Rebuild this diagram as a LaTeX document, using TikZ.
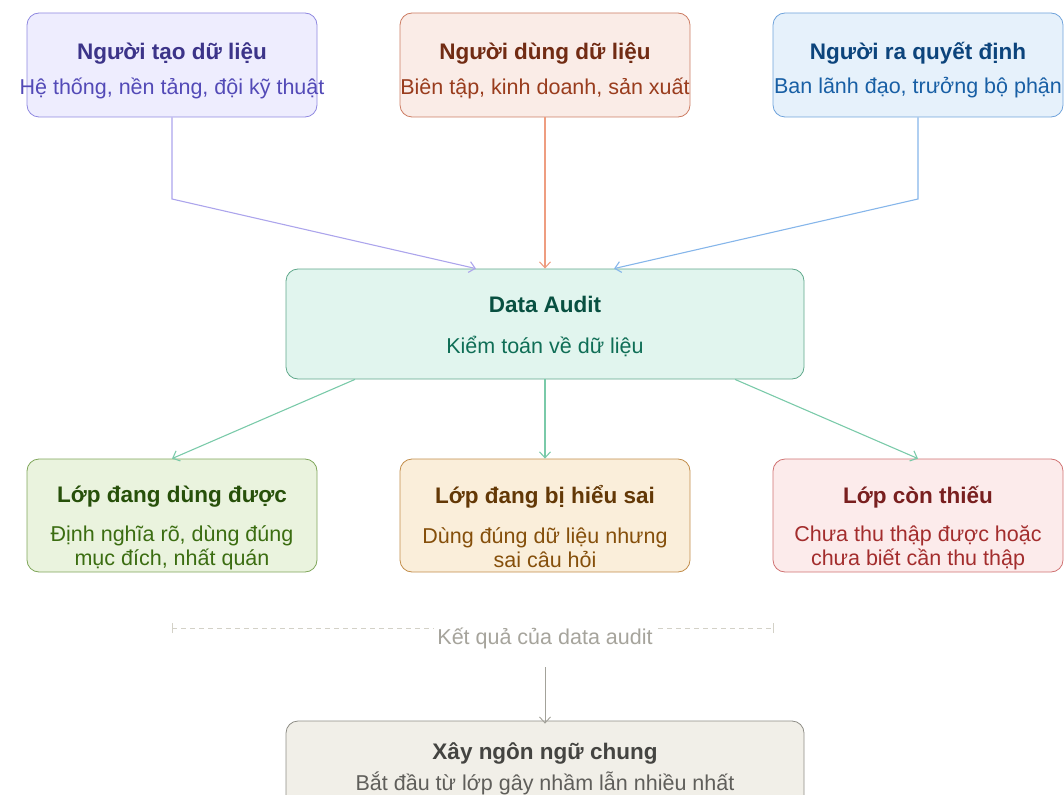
\documentclass[tikz,border=0pt]{standalone}
\usepackage{fontspec}
\setmainfont{Liberation Sans}
\usetikzlibrary{arrows.meta}
% colours
\definecolor{purFill}{HTML}{EEEDFE}\definecolor{purLine}{HTML}{8F88E0}
\definecolor{purHead}{HTML}{3C3489}\definecolor{purText}{HTML}{534AB7}
\definecolor{purLink}{HTML}{ACA5EC}
\definecolor{corFill}{HTML}{FAECE7}\definecolor{corLine}{HTML}{CC7C62}
\definecolor{corHead}{HTML}{712B13}\definecolor{corText}{HTML}{993C1D}
\definecolor{corLink}{HTML}{EE9D80}
\definecolor{bluFill}{HTML}{E6F1FB}\definecolor{bluLine}{HTML}{6FA3DB}
\definecolor{bluHead}{HTML}{0C447C}\definecolor{bluText}{HTML}{185FA5}
\definecolor{bluLink}{HTML}{86B6EA}
\definecolor{tealFill}{HTML}{E1F5EE}\definecolor{tealLine}{HTML}{5FA88B}
\definecolor{tealHead}{HTML}{085041}\definecolor{tealText}{HTML}{0F6E56}
\definecolor{tealLink}{HTML}{7ACAA9}
\definecolor{grnFill}{HTML}{EAF3DE}\definecolor{grnLine}{HTML}{7FA65A}
\definecolor{grnHead}{HTML}{27500A}\definecolor{grnText}{HTML}{3B6D11}
\definecolor{ambFill}{HTML}{FAEEDA}\definecolor{ambLine}{HTML}{C28D4A}
\definecolor{ambHead}{HTML}{633806}\definecolor{ambText}{HTML}{854F0B}
\definecolor{redFill}{HTML}{FCEBEB}\definecolor{redLine}{HTML}{D07272}
\definecolor{redHead}{HTML}{791F1F}\definecolor{redText}{HTML}{A32D2D}
\definecolor{stoFill}{HTML}{F1EFE8}\definecolor{stoLine}{HTML}{8E8D86}
\definecolor{stoHead}{HTML}{444441}\definecolor{stoText}{HTML}{5F5E5A}
\definecolor{stoLink}{HTML}{A3A29A}\definecolor{stoDash}{HTML}{D3D1C7}
\definecolor{stoNote}{HTML}{A6A49C}
\tikzset{
  box/.style={draw, rounded corners=12pt, line width=0.8pt, minimum width=290pt, minimum height=104pt, inner sep=0pt},
  widebox/.style={box, minimum width=518pt, minimum height=110pt},
  head/.style={font=\fontsize{22.5}{26}\selectfont\bfseries},
  sub/.style={font=\fontsize{21.5}{24}\selectfont, align=center},
  link/.style={line width=1.1pt, -{Straight Barb[length=6pt,width=11pt]}},
}
\begin{document}
\begin{tikzpicture}[x=1pt,y=-1pt]
	\useasboundingbox (0,0) rectangle (1064,794);
	% sources
	\node[box, fill=purFill, draw=purLine] (maker) at (172,65) {};
	\node[head, text=purHead] (makerT) at (172,53) {Người tạo dữ liệu};
	\node[sub, text=purText] (makerS) at (172,88) {Hệ thống, nền tảng, đội kỹ thuật};
	\node[box, fill=corFill, draw=corLine] (user) at (545,65) {};
	\node[head, text=corHead] (userT) at (545,53) {Người dùng dữ liệu};
	\node[sub, text=corText] (userS) at (545,88) {Biên tập, kinh doanh, sản xuất};
	\node[box, fill=bluFill, draw=bluLine] (boss) at (918,65) {};
	\node[head, text=bluHead] (bossT) at (918,53) {Người ra quyết định};
	\node[sub, text=bluText] (bossS) at (918,88) {Ban lãnh đạo, trưởng bộ phận};
	% audit
	\node[widebox, fill=tealFill, draw=tealLine] (audit) at (545,324) {};
	\node[head, text=tealHead] (auditT) at (545,304) {Data Audit};
	\node[sub, text=tealText] (auditS) at (545,346) {Kiểm toán về dữ liệu};
	% layers
	\node[box, fill=grnFill, draw=grnLine, minimum height=113pt] (good) at (172,515.5) {};
	\node[head, text=grnHead] (goodT) at (172,497) {Lớp đang dùng được};
	\node[sub, text=grnText] (goodS) at (172,548) {Định nghĩa rõ, dùng đúng\\mục đích, nhất quán};
	\node[box, fill=ambFill, draw=ambLine, minimum height=113pt] (wrong) at (545,515.5) {};
	\node[head, text=ambHead] (wrongT) at (545,497) {Lớp đang bị hiểu sai};
	\node[sub, text=ambText] (wrongS) at (545,548) {Dùng đúng dữ liệu nhưng\\sai câu hỏi};
	\node[box, fill=redFill, draw=redLine, minimum height=113pt] (gap) at (918,515.5) {};
	\node[head, text=redHead] (gapT) at (918,497) {Lớp còn thiếu};
	\node[sub, text=redText] (gapS) at (918,548) {Chưa thu thập được hoặc\\chưa biết cần thu thập};
	% result
	\coordinate (dashL) at (172,628);
	\coordinate (dashR) at (773,628);
	\draw[stoDash, line width=0.8pt, dash pattern=on 5pt off 4pt] (dashL) -- (dashR);
	\draw[stoDash, line width=0.8pt] ([yshift=-5pt]dashL) -- ([yshift=5pt]dashL);
	\draw[stoDash, line width=0.8pt] ([yshift=-5pt]dashR) -- ([yshift=5pt]dashR);
	\node[font=\fontsize{21.5}{24}\selectfont, text=stoNote, fill=white, inner sep=3pt] (note) at (545,638) {Kết quả của data audit};
	\coordinate (noteEnd) at (545,667);
	\node[widebox, fill=stoFill, draw=stoLine, minimum height=100pt] (lang) at (545,771) {};
	\node[head, text=stoHead] (langT) at (545,753) {Xây ngôn ngữ chung};
	\node[sub, text=stoText] (langS) at (545,783) {Bắt đầu từ lớp gây nhầm lẫn nhiều nhất};
	% links
	\draw[link, purLink] (maker.south) -- (172,199) -- ([xshift=-69pt]audit.north);
	\draw[link, corLink] (user.south) -- (audit.north);
	\draw[link, bluLink] (boss.south) -- (918,199) -- ([xshift=69pt]audit.north);
	\draw[link, tealLink] ([xshift=-190pt]audit.south) -- (good.north);
	\draw[link, tealLink] (audit.south) -- (wrong.north);
	\draw[link, tealLink] ([xshift=190pt]audit.south) -- (gap.north);
	\draw[link, stoLink, line width=0.9pt] (noteEnd) -- ([yshift=-3pt]lang.north);
\end{tikzpicture}
\end{document}
